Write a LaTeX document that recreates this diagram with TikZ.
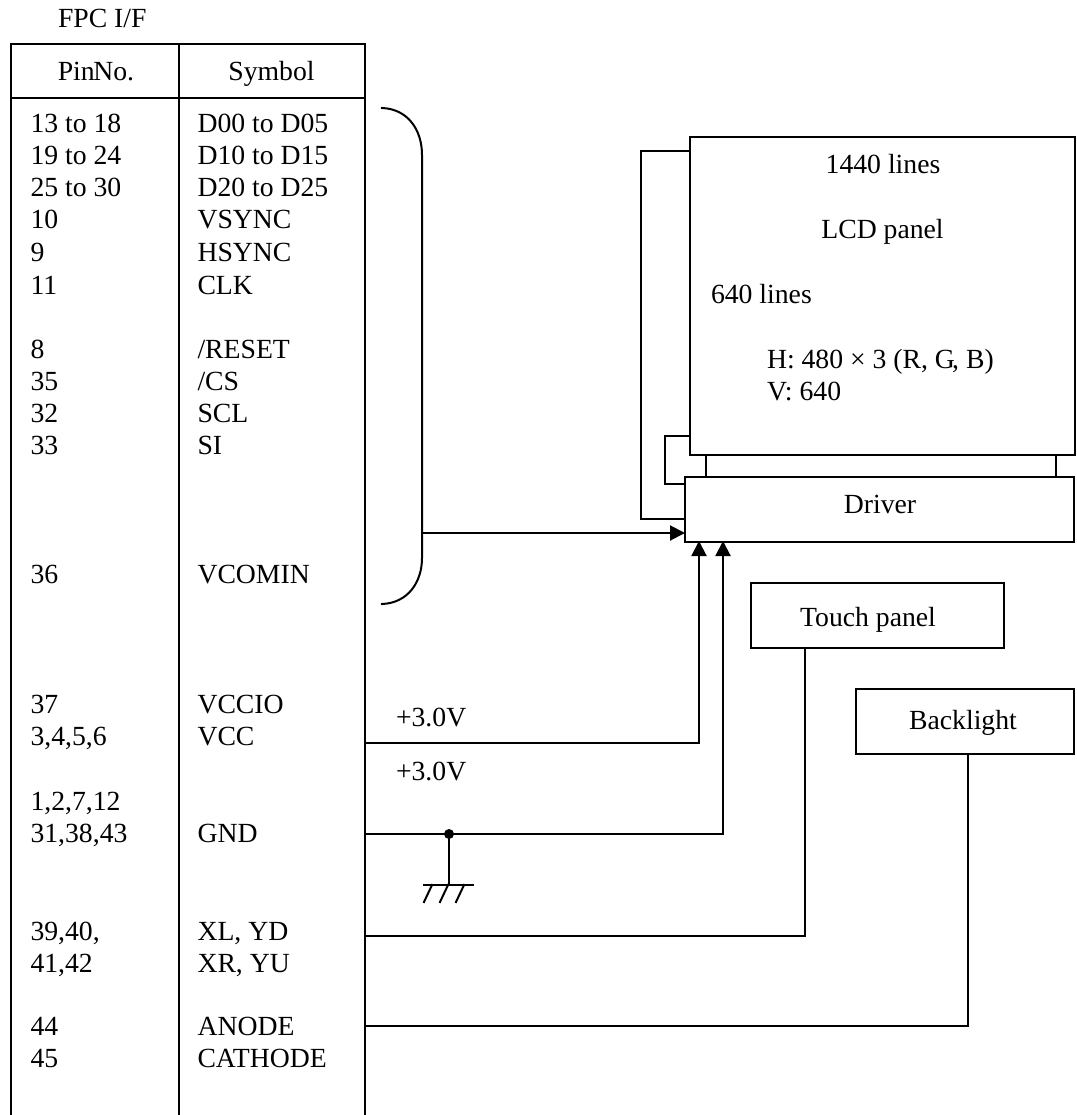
\documentclass[tikz,border=0pt]{standalone}
\usepackage{fontspec}
\setmainfont{Liberation Serif}
\usetikzlibrary{arrows.meta}
\tikzset{
  txt/.style={inner sep=0pt,outer sep=0pt,font=\fontsize{27.7}{32}\selectfont},
  rowtxt/.style={txt,anchor=base west},
  midtxt/.style={txt,anchor=base},
  box/.style={draw,line width=2pt,inner sep=0pt,outer sep=0pt},
  conn/.style={line width=2pt},
  tip/.style={conn,-{Triangle[length=15pt,width=15pt]}}
}

\begin{document}
\begin{tikzpicture}[x=1pt,y=-1pt,line cap=rect]
      \useasboundingbox (0,0) rectangle (1076,1115);
      % table
      \node[rowtxt] (title) at (58,28) {FPC I/F};
      \draw[conn] (10.5,1115) -- (10.5,44) -- (365,44) -- (365,1115);
      \draw[conn] (178.5,44) -- (178.5,1115);
      \draw[conn] (10.5,98.5) -- (365,98.5);
      \node[midtxt] (pinhead) at (96,81) {Pin\hspace{-0.05em}No.};
      \node[midtxt] (symhead) at (271.5,81) {Symbol};
      \foreach \n/\y/\p/\s in {1/133/13 to 18/D00 to D05,2/165/19 to 24/D10 to D15,
        3/197/25 to 30/D20 to D25,4/229/10/VSYNC,5/261/9/HSYNC,6/294/11/CLK,
        7/358/8/{/RESET},8/390/35/{/CS},9/422/32/SCL,10/454/33/SI,11/583/36/VCOMIN,
        12/713/37/VCCIO,13/745/{3,4,5,6}/VCC,15/842/{31,38,43}/GND,
        16/940/{39,40,}/{XL, YD},17/972/{41,42}/{XR, YU},18/1035/44/ANODE,19/1067/45/CATHODE}
      {
        \node[rowtxt] (pin\n) at (30.5,\y) {\p};
        \node[rowtxt] (sym\n) at (197.5,\y) {\s};
      }
      \node[rowtxt] (pin14) at (30.5,810) {1,2,7,12};
      % panel and driver
      \node[box,minimum width=385pt,minimum height=318pt] (lcd) at (882.5,296) {};
      \node[box,minimum width=389pt,minimum height=65pt] (driver) at (879.5,509.5) {};
      \node[midtxt] (drivername) at (880,513) {Driver};
      \node[midtxt] (lines1440) at (883,174) {1440 lines};
      \node[midtxt] (lcdname) at (882.5,238) {LCD panel};
      \node[rowtxt] (lines640) at (711,303) {640 lines};
      \node[rowtxt] (hres) at (767,368) {H: 480 × 3 (R, G\hspace{-0.1em}, B)};
      \node[rowtxt] (vres) at (767,400) {V: 640};
      \foreach \x in {705.5,1056}
      \draw[conn] (\x,455) -- (\x,477);
      \draw[conn] (lcd.west |- 0,151) -- (641,151) -- (641,519) -- (driver.west |- 0,519);
      \draw[conn] (lcd.west |- 0,436) -- (665,436) -- (665,484) -- (driver.west |- 0,484);
      % other boxes
      \node[box,minimum width=253pt,minimum height=65pt] (touch) at (877.5,615.5) {};
      \node[midtxt] (touchname) at (868,626) {Touch panel};
      \node[box,minimum width=218pt,minimum height=65pt] (backlight) at (965,721.5) {};
      \node[midtxt] (backname) at (963,729) {Backlight};
      % bracket
      \coordinate (bustop) at (382,108);
      \coordinate (busbot) at (382,604);
      \coordinate (busout) at (422,533);
      \draw[conn] (bustop) .. controls (408,109) and (422,130) .. (422,155) -- (422,558)
        .. controls (422,582) and (408,603) .. (busbot);
      \draw[tip] (busout) -- (driver.west |- busout);
      % supply lines
      \coordinate (vccout) at (365,743);
      \coordinate (gndout) at (365,834);
      \coordinate (tpout) at (365,936);
      \coordinate (blout) at (365,1026);
      \draw[tip] (vccout) -| (699,541);
      \draw[tip] (gndout) -| (723,541);
      \node[rowtxt] (plus1) at (396,726) {+3.0V};
      \node[rowtxt] (plus2) at (396,780) {+3.0V};
      \draw[conn] (tpout) -| (touch.south -| 805,0);
      \draw[conn] (blout) -| (backlight.south -| 968,0);
      % ground
      \fill (449,834) circle (5pt);
      \draw[conn] (449,834) -- (449,885);
      \draw[conn] (424,885) -- (473,885);
      \foreach \x in {432,448,464}
      \draw[conn] (\x,885) -- (\x-8,902);
    \end{tikzpicture}
\end{document}
